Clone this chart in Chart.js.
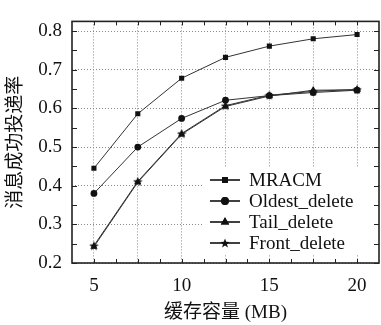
<!DOCTYPE html>
<html><head><meta charset="utf-8">
<script src="https://cdn.jsdelivr.net/npm/chart.js@4"></script>
<style>html,body{margin:0;padding:0;overflow:hidden;background:#fff}#wrap{width:384px;height:325px;position:relative}</style>
</head><body><div id="wrap"><canvas id="c" width="384" height="325"></canvas></div>
<script>
const bufferSizes = [5, 7.5, 10, 12.5, 15, 17.5, 20];
const mracm = [0.445, 0.586, 0.678, 0.732, 0.761, 0.780, 0.791];
const oldestDelete = [0.380, 0.500, 0.574, 0.621, 0.633, 0.641, 0.647];
const tailDelete = [0.242, 0.409, 0.533, 0.605, 0.632, 0.647, 0.648];
const frontDelete = [0.245, 0.411, 0.535, 0.607, 0.634, 0.644, 0.649];
const seriesNames = ['MRACM', 'Oldest_delete', 'Tail_delete', 'Front_delete'];
const xTickValues = [5, 7.5, 10, 12.5, 15, 17.5, 20];
const xLabelValues = [5, 10, 15, 20];
const yTickValues = [0.2, 0.3, 0.4, 0.5, 0.6, 0.7, 0.8];
const xTitle = '缓存容量 (MB)';
const yTitle = '消息成功投递率';

const FONT = '"Liberation Serif", "Noto Sans CJK SC", serif';
const INK = '#111';

function starCanvas(size) {
  const c = document.createElement('canvas');
  c.width = size; c.height = size;
  const g = c.getContext('2d');
  const cx = size / 2, cy = size / 2 + 0.5, R = size / 2, r = R * 0.42;
  g.beginPath();
  for (let i = 0; i < 10; i++) {
    const a = -Math.PI / 2 + i * Math.PI / 5;
    const rad = i % 2 === 0 ? R : r;
    g.lineTo(cx + rad * Math.cos(a), cy + rad * Math.sin(a));
  }
  g.closePath();
  g.fillStyle = INK; g.fill();
  return c;
}
const star = starCanvas(10);

const seriesValues = [mracm, oldestDelete, tailDelete, frontDelete];
const styles = [
  { pointStyle: 'rect', radius: 3.6 },
  { pointStyle: 'circle', radius: 3.4 },
  { pointStyle: 'triangle', radius: 4.2 },
  { pointStyle: star, radius: 5 }
];

const datasets = seriesNames.map((name, i) => ({
  label: name,
  data: bufferSizes.map((x, j) => ({ x, y: seriesValues[i][j] })),
  borderColor: '#333',
  backgroundColor: INK,
  borderWidth: 1,
  pointStyle: styles[i].pointStyle,
  pointRadius: styles[i].radius,
  pointBorderWidth: 0,
  pointBackgroundColor: INK,
  pointBorderColor: INK,
  tension: 0,
  order: i === 3 ? 4 : i
}));

const framePlugin = {
  id: 'frame',
  afterDraw(chart) {
    const { ctx, chartArea: a, scales } = chart;
    const xs = scales.x, ys = scales.y;
    ctx.save();
    // legend box
    ctx.fillStyle = '#fff';
    ctx.fillRect(203, 167, 175, 88);
    const rows = [180, 201, 222, 243];
    ctx.font = '19px ' + FONT;
    ctx.textBaseline = 'middle';
    ctx.textAlign = 'left';
    chart.data.datasets.forEach((ds, i) => {
      const y = rows[i];
      ctx.strokeStyle = '#111';
      ctx.lineWidth = 1.6;
      ctx.beginPath(); ctx.moveTo(210, y); ctx.lineTo(240, y); ctx.stroke();
      const ps = ds.pointStyle;
      if (typeof ps === 'string') {
        ctx.fillStyle = INK;
        Chart.helpers.drawPoint(ctx, { pointStyle: ps, radius: ds.pointRadius * 1.15, borderWidth: 0 }, 225, y);
        ctx.fill();
      } else {
        ctx.drawImage(ps, 225 - ps.width / 2, y - ps.height / 2);
      }
      ctx.fillStyle = INK;
      ctx.fillText(ds.label, 249, y + 1);
    });
    // frame
    ctx.strokeStyle = '#222';
    ctx.lineWidth = 1.6;
    ctx.strokeRect(a.left, a.top, a.right - a.left, a.bottom - a.top);
    ctx.lineWidth = 1;
    ctx.beginPath();
    for (let v = 5; v <= 20.001; v += 1.25) {
      const px = Math.round(xs.getPixelForValue(v)) + 0.5;
      ctx.moveTo(px, a.bottom); ctx.lineTo(px, a.bottom - 4);
      ctx.moveTo(px, a.top); ctx.lineTo(px, a.top + 4);
    }
    for (let v = 0.2; v <= 0.8001; v += 0.05) {
      const py = Math.round(ys.getPixelForValue(v)) + 0.5;
      ctx.moveTo(a.left, py); ctx.lineTo(a.left + 5, py);
      ctx.moveTo(a.right, py); ctx.lineTo(a.right - 5, py);
    }
    ctx.stroke();
    ctx.restore();
  }
};

new Chart(document.getElementById('c'), {
  type: 'line',
  data: { datasets },
  options: {
    responsive: false,
    animation: false,
    devicePixelRatio: 1,
    layout: { padding: { right: 2, top: 11, left: 0, bottom: 0 } },
    plugins: { legend: { display: false }, tooltip: { enabled: false } },
    scales: {
      x: {
        type: 'linear', min: 3.75, max: 21.25,
        afterBuildTicks: s => { s.ticks = xTickValues.map(v => ({ value: v })); },
        afterFit: s => { s.height = 62; },
        ticks: {
          autoSkip: false, maxRotation: 0, padding: 12, color: INK,
          font: { family: FONT, size: 19 },
          callback: v => xLabelValues.includes(v) ? String(v) : ''
        },
        grid: { color: '#8a8a8a', lineWidth: 1, drawTicks: false, tickLength: 0 },
        border: { display: false, dash: [1, 2] },
        title: { display: true, text: xTitle, color: INK, font: { family: FONT, size: 19 }, padding: { top: 0, bottom: 1 } }
      },
      y: {
        type: 'linear', min: 0.2, max: 0.825,
        afterBuildTicks: s => { s.ticks = yTickValues.map(v => ({ value: v })); },
        afterFit: s => { s.width = 72; },
        ticks: {
          padding: 10, color: INK,
          font: { family: FONT, size: 19 },
          callback: v => v.toFixed(1)
        },
        grid: { color: '#8a8a8a', lineWidth: 1, drawTicks: false, tickLength: 0 },
        border: { display: false, dash: [1, 2] },
        title: { display: true, text: yTitle, color: INK, font: { family: FONT, size: 19 }, padding: { top: 5, bottom: 0 } }
      }
    }
  },
  plugins: [framePlugin]
});
</script>
</body></html>
